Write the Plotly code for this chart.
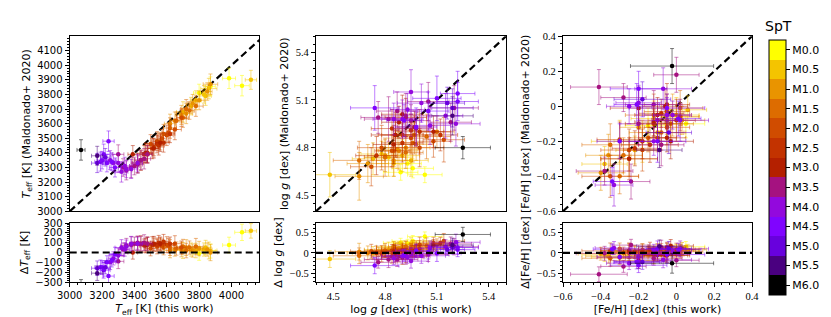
import math
import plotly.graph_objects as go

# ---------------- data ----------------
spt = [0.0, 0.0, 0.0, 0.0,
       0.5, 0.5, 0.5, 0.5, 0.5, 0.5, 0.5,
       1.0, 1.0, 1.0, 1.0, 1.0, 1.0, 1.0, 1.0,
       1.5, 1.5, 1.5, 1.5, 1.5, 1.5, 1.5, 1.5,
       2.0, 2.0, 2.0, 2.0, 2.0, 2.0, 2.0, 2.0,
       2.5, 2.5, 2.5, 2.5, 2.5, 2.5, 2.5,
       3.0, 3.0, 3.0, 3.0, 3.0, 3.0, 3.0,
       3.5, 3.5, 3.5, 3.5, 3.5, 3.5, 3.5, 3.5, 3.5,
       4.0, 4.0, 4.0, 4.0, 4.0, 4.0, 4.0, 4.0,
       4.5, 4.5, 4.5, 4.5, 4.5, 4.5, 4.5,
       5.0, 5.0,
       5.5,
       6.0]

teff_this = [3985, 4065, 3870, 3800,
             4120, 3860, 3830, 3780, 3750, 3700, 3840,
             3870, 3850, 3800, 3760, 3720, 3690, 3650, 3620,
             3780, 3740, 3700, 3660, 3620, 3580, 3560, 3720,
             3690, 3650, 3610, 3570, 3540, 3520, 3600, 3500,
             3620, 3580, 3540, 3510, 3480, 3460, 3550,
             3560, 3520, 3480, 3440, 3420, 3390, 3470,
             3480, 3440, 3400, 3380, 3350, 3330, 3300, 3420, 3460,
             3420, 3380, 3350, 3320, 3300, 3270, 3250, 3340,
             3240, 3230, 3210, 3190, 3260, 3280, 3200,
             3170, 3220,
             3170,
             3070]

teff_mald = [3910, 3860, 3855, 3810,
             3900, 3840, 3800, 3760, 3720, 3680, 3790,
             3870, 3820, 3760, 3740, 3670, 3660, 3620, 3600,
             3720, 3690, 3640, 3620, 3570, 3530, 3480, 3700,
             3640, 3560, 3540, 3500, 3480, 3440, 3520, 3460,
             3530, 3470, 3460, 3430, 3400, 3390, 3450,
             3470, 3430, 3390, 3350, 3330, 3390, 3400,
             3390, 3350, 3310, 3300, 3280, 3300, 3390, 3320, 3360,
             3330, 3290, 3290, 3270, 3330, 3330, 3350, 3310,
             3480, 3330, 3390, 3340, 3340, 3300, 3350,
             3330, 3370,
             3380,
             3420]

logg_this = [5.03, 4.96, 4.89, 4.93,
             4.48, 4.73, 4.85, 4.82, 4.90, 4.78, 4.95,
             4.65, 4.80, 4.88, 4.85, 4.92, 4.70, 4.98, 4.87,
             4.65, 4.92, 4.96, 4.85, 5.04, 4.80, 5.10, 4.97,
             5.14, 4.95, 5.00, 4.84, 4.90, 5.08, 4.78, 4.72,
             4.86, 4.90, 4.95, 5.00, 4.84, 5.12, 4.75,
             4.88, 4.92, 4.97, 4.86, 4.90, 5.08, 4.85,
             4.82, 4.87, 4.76, 4.92, 5.05, 4.95, 5.18, 4.98, 5.20,
             4.90, 4.95, 5.01, 4.85, 5.15, 5.06, 4.93, 5.21,
             4.74, 5.05, 5.22, 5.22, 4.98, 4.91, 5.10,
             5.19, 5.16,
             5.19,
             5.25]

logg_mald = [4.63, 4.67, 4.645, 4.70,
             4.63, 4.73, 4.70, 4.74, 4.75, 4.76, 4.72,
             4.62, 4.75, 4.78, 4.72, 4.80, 4.70, 4.82, 4.79,
             4.72, 4.77, 4.83, 4.78, 4.87, 4.74, 4.90, 4.88,
             4.85, 4.86, 4.80, 4.78, 4.88, 4.84, 4.80, 4.68,
             4.88, 4.83, 4.91, 4.90, 4.92, 4.88, 4.75,
             4.96, 4.99, 4.93, 4.88, 5.01, 4.90, 4.82,
             4.98, 5.03, 4.99, 5.00, 5.09, 4.97, 4.96, 4.92, 5.05,
             4.98, 5.15, 5.08, 4.98, 5.00, 4.94, 5.04, 4.95,
             5.05, 5.03, 5.09, 5.14, 4.93, 4.97, 5.11,
             5.05, 5.08,
             5.00,
             4.80]

feh_this = [0.05, -0.15, -0.05, 0.02,
            -0.12, -0.30, -0.22, 0.00, -0.18, -0.38, 0.06,
            -0.36, -0.10, -0.05, -0.40, -0.02, -0.25, 0.03, -0.20,
            -0.35, -0.08, -0.15, 0.02, -0.12, -0.28, -0.03, -0.30,
            -0.05, -0.25, -0.10, -0.05, -0.35, 0.02, -0.30, -0.18,
            -0.14, -0.08, 0.00, -0.22, -0.12, -0.18, -0.05,
            -0.10, -0.12, -0.20, -0.06, -0.05, -0.03, -0.25,
            -0.41, -0.28, -0.20, 0.00, -0.38, -0.10, -0.08, -0.24, -0.12,
            -0.25, -0.07, -0.12, -0.20, 0.02, -0.02, -0.05, -0.33,
            -0.20, -0.21, -0.05, 0.01, -0.10, -0.34, -0.30,
            -0.18, -0.04,
            -0.09,
            -0.023]

feh_mald = [-0.10, -0.11, -0.10, -0.06,
            -0.07, -0.20, -0.25, -0.05, -0.20, -0.33, -0.02,
            -0.28, -0.15, -0.08, -0.38, -0.05, -0.30, -0.08, -0.12,
            -0.22, -0.15, -0.18, -0.01, -0.05, -0.28, -0.10, -0.40,
            -0.12, -0.25, -0.18, -0.03, -0.40, -0.06, -0.19, -0.25,
            -0.22, -0.04, -0.08, -0.24, -0.10, -0.20, 0.01,
            -0.05, -0.09, -0.01, 0.00, -0.18, -0.20, -0.30,
            0.11, 0.05, -0.10, 0.18, -0.37, -0.08, -0.22, -0.43, 0.01,
            0.00, 0.10, -0.20, 0.02, -0.08, -0.05, -0.05, -0.45,
            0.10, 0.01, -0.01, -0.07, -0.20, -0.43, -0.20,
            0.04, -0.15,
            -0.25,
            0.23]

teff_err_this = [40, 45, 30, 35,
                 35, 50, 30, 35, 30, 40, 35,
                 45, 30, 35, 30, 40, 35, 30, 35,
                 45, 30, 35, 30, 40, 35, 30, 35,
                 30, 40, 35, 30, 35, 30, 40, 35,
                 30, 35, 30, 40, 35, 30, 35,
                 30, 35, 30, 40, 35, 30, 35,
                 30, 35, 30, 40, 35, 30, 35, 30, 40,
                 30, 35, 30, 40, 35, 30, 35, 30,
                 35, 30, 40, 35, 30, 35, 30,
                 35, 30,
                 35,
                 25]

teff_err_mald = [70, 70, 65, 60,
                 65, 70, 60, 65, 60, 70, 65,
                 70, 60, 65, 60, 70, 65, 60, 65,
                 70, 60, 65, 60, 70, 65, 60, 65,
                 60, 70, 65, 60, 65, 60, 70, 65,
                 60, 65, 60, 70, 65, 60, 65,
                 60, 65, 60, 70, 65, 60, 65,
                 60, 65, 60, 70, 65, 60, 65, 60, 70,
                 60, 65, 60, 70, 65, 60, 65, 60,
                 70, 60, 70, 65, 60, 65, 60,
                 65, 60,
                 65,
                 70]

logg_err_this = [0.10, 0.12, 0.10, 0.08,
                 0.15, 0.12, 0.10, 0.14, 0.10, 0.12, 0.10,
                 0.14, 0.10, 0.12, 0.10, 0.14, 0.12, 0.10, 0.12,
                 0.15, 0.10, 0.12, 0.10, 0.14, 0.12, 0.10, 0.12,
                 0.12, 0.10, 0.14, 0.10, 0.12, 0.10, 0.14, 0.12,
                 0.10, 0.12, 0.10, 0.14, 0.12, 0.10, 0.12,
                 0.10, 0.12, 0.10, 0.14, 0.12, 0.10, 0.12,
                 0.14, 0.12, 0.10, 0.14, 0.12, 0.10, 0.12, 0.10, 0.14,
                 0.12, 0.10, 0.14, 0.12, 0.10, 0.12, 0.10, 0.14,
                 0.14, 0.12, 0.12, 0.10, 0.12, 0.10, 0.14,
                 0.12, 0.10,
                 0.12,
                 0.16]

logg_err_mald = [0.05, 0.06, 0.05, 0.06,
                 0.14, 0.10, 0.08, 0.12, 0.10, 0.08, 0.10,
                 0.15, 0.10, 0.12, 0.10, 0.08, 0.12, 0.10, 0.12,
                 0.12, 0.10, 0.12, 0.10, 0.14, 0.12, 0.10, 0.12,
                 0.14, 0.10, 0.12, 0.10, 0.12, 0.10, 0.14, 0.12,
                 0.10, 0.12, 0.10, 0.14, 0.12, 0.10, 0.12,
                 0.10, 0.12, 0.10, 0.14, 0.12, 0.10, 0.12,
                 0.14, 0.12, 0.10, 0.14, 0.12, 0.10, 0.12, 0.10, 0.14,
                 0.12, 0.14, 0.12, 0.10, 0.14, 0.12, 0.10, 0.14,
                 0.14, 0.12, 0.12, 0.14, 0.12, 0.10, 0.14,
                 0.12, 0.10,
                 0.12,
                 0.07]

feh_err_this = [0.10, 0.12, 0.08, 0.10,
                0.12, 0.15, 0.10, 0.12, 0.15, 0.12, 0.10,
                0.12, 0.15, 0.10, 0.12, 0.10, 0.15, 0.12, 0.10,
                0.15, 0.12, 0.10, 0.12, 0.15, 0.10, 0.12, 0.10,
                0.12, 0.15, 0.10, 0.12, 0.15, 0.10, 0.12, 0.10,
                0.15, 0.12, 0.10, 0.12, 0.15, 0.10, 0.12,
                0.12, 0.10, 0.15, 0.12, 0.10, 0.12, 0.15,
                0.15, 0.12, 0.10, 0.12, 0.15, 0.10, 0.12, 0.10, 0.15,
                0.12, 0.15, 0.10, 0.12, 0.15, 0.10, 0.12, 0.10,
                0.15, 0.12, 0.20, 0.12, 0.15, 0.10, 0.12,
                0.15, 0.12,
                0.12,
                0.22]

feh_err_mald = [0.08, 0.10, 0.08, 0.10,
                0.10, 0.12, 0.08, 0.10, 0.12, 0.10, 0.08,
                0.12, 0.10, 0.08, 0.10, 0.12, 0.10, 0.08, 0.10,
                0.12, 0.10, 0.08, 0.10, 0.12, 0.10, 0.08, 0.10,
                0.10, 0.12, 0.08, 0.10, 0.12, 0.08, 0.10, 0.12,
                0.10, 0.08, 0.12, 0.10, 0.08, 0.10, 0.12,
                0.10, 0.08, 0.12, 0.10, 0.08, 0.10, 0.12,
                0.10, 0.08, 0.12, 0.10, 0.08, 0.10, 0.12, 0.10, 0.08,
                0.10, 0.12, 0.08, 0.10, 0.12, 0.08, 0.10, 0.12,
                0.10, 0.12, 0.08, 0.10, 0.12, 0.08, 0.10,
                0.10, 0.12,
                0.10,
                0.10]

spt_levels = [0.0, 0.5, 1.0, 1.5, 2.0, 2.5, 3.0, 3.5, 4.0, 4.5, 5.0, 5.5, 6.0]
spt_labels = ["M0.0", "M0.5", "M1.0", "M1.5", "M2.0", "M2.5", "M3.0",
              "M3.5", "M4.0", "M4.5", "M5.0", "M5.5", "M6.0"]

N = len(spt)
for arr in (teff_this, teff_mald, logg_this, logg_mald, feh_this, feh_mald,
            teff_err_this, teff_err_mald, logg_err_this, logg_err_mald,
            feh_err_this, feh_err_mald):
    assert len(arr) == N, len(arr)

# derived: differences (this work - Maldonado)
d_teff = [a - b for a, b in zip(teff_this, teff_mald)]
d_logg = [a - b for a, b in zip(logg_this, logg_mald)]
d_feh = [a - b for a, b in zip(feh_this, feh_mald)]
d_teff_err = [math.hypot(a, b) for a, b in zip(teff_err_this, teff_err_mald)]
d_logg_err = [math.hypot(a, b) for a, b in zip(logg_err_this, logg_err_mald)]
d_feh_err = [math.hypot(a, b) for a, b in zip(feh_err_this, feh_err_mald)]


# gnuplot colormap (matplotlib), M0 -> 1 (yellow), M6 -> 0 (black)
def spt_color(s, a=1.0):
    v = 1.0 - s / 6.0
    r = math.sqrt(v)
    g = v ** 3
    b = min(max(math.sin(2 * math.pi * v), 0.0), 1.0)
    return f"rgba({round(r*255)},{round(g*255)},{round(b*255)},{a})"


W, H = 831, 317


def xd(a, b):
    return [a / W, b / W]


def yd(top, bottom):
    return [1 - bottom / H, 1 - top / H]


panels = [
    # xaxis, yaxis, x, y, xerr, yerr
    ("x", "y", teff_this, teff_mald, teff_err_this, teff_err_mald),
    ("x2", "y2", logg_this, logg_mald, logg_err_this, logg_err_mald),
    ("x3", "y3", feh_this, feh_mald, feh_err_this, feh_err_mald),
    ("x4", "y4", teff_this, d_teff, teff_err_this, d_teff_err),
    ("x5", "y5", logg_this, d_logg, logg_err_this, d_logg_err),
    ("x6", "y6", feh_this, d_feh, feh_err_this, d_feh_err),
]

fig = go.Figure()

teff_rng = [3000, 4170]
teff_rng_y = [3000, 4198]
logg_rng = [4.4, 5.5]
feh_rng = [-0.6, 0.4]

# one-to-one and zero lines
dash_style = dict(color="black", width=2.2, dash="7px,4px")
for xa, ya, rng in (("x", "y", [3000, 4200]), ("x2", "y2", logg_rng), ("x3", "y3", feh_rng)):
    fig.add_trace(go.Scatter(x=rng, y=rng, mode="lines", line=dash_style,
                             xaxis=xa, yaxis=ya, showlegend=False, hoverinfo="skip"))

for xa, ya, xv, yv, xe, ye in panels:
    for s in spt_levels:
        idx = [i for i in range(N) if spt[i] == s]
        if not idx:
            continue
        fig.add_trace(go.Scatter(
            x=[xv[i] for i in idx], y=[yv[i] for i in idx],
            mode="markers", xaxis=xa, yaxis=ya, showlegend=False,
            marker=dict(color=spt_color(s), size=4.5, line=dict(width=0)),
            error_x=dict(type="data", array=[xe[i] for i in idx], color=spt_color(s, 0.5),
                         thickness=1, width=2),
            error_y=dict(type="data", array=[ye[i] for i in idx], color=spt_color(s, 0.5),
                         thickness=1, width=2),
        ))

for xa, ya, rng in (("x4", "y4", [3000, 4170]), ("x5", "y5", logg_rng), ("x6", "y6", feh_rng)):
    fig.add_trace(go.Scatter(x=rng, y=[0, 0], mode="lines", line=dash_style,
                             xaxis=xa, yaxis=ya, showlegend=False, hoverinfo="skip"))

# colorbar
n = len(spt_levels)
cscale = []
for i in range(n):
    s = spt_levels[n - 1 - i]
    c = spt_color(s)
    cscale.append([i / n, c])
    cscale.append([(i + 1) / n, c])
fig.add_trace(go.Scatter(
    x=[None], y=[None], mode="markers", xaxis="x", yaxis="y", showlegend=False,
    hoverinfo="skip",
    marker=dict(color=[0], colorscale=cscale, cmin=-6.25, cmax=0.25, showscale=True,
                colorbar=dict(
                    thickness=17, thicknessmode="pixels",
                    len=255, lenmode="pixels",
                    x=761 / W, xanchor="left", y=1 - 32 / H, yanchor="top",
                    xpad=0, ypad=0,
                    outlinewidth=1, outlinecolor="black",
                    tickvals=[-s for s in spt_levels], ticktext=spt_labels,
                    ticks="outside", ticklen=4, tickcolor="black",
                    tickfont=dict(family="DejaVu Sans", size=11, color="black"),
                )),
))
fig.add_annotation(text="SpT", x=770 / W, y=1 - 18 / H, xref="paper", yref="paper",
                   xanchor="center", yanchor="middle", showarrow=False,
                   font=dict(family="DejaVu Sans", size=14, color="black"))

SANS = "DejaVu Sans"
SERIF = "Liberation Serif"


def ax(domain, anchor, rng, dtick, minor, tick0=None, labels=True, font=SANS,
       title=None, tsize=11):
    d = dict(domain=domain, anchor=anchor, range=rng, showline=True, mirror=True,
             linecolor="black", linewidth=1.2, showgrid=False, zeroline=False,
             ticks="outside" if labels else "", ticklen=4, tickwidth=1, tickcolor="black",
             showticklabels=labels, automargin=False,
             tickfont=dict(family=font, size=10.5 if font == SERIF else 10, color="black"))
    if dtick is not None:
        d["dtick"] = dtick
        if tick0 is not None:
            d["tick0"] = tick0
    if labels and minor:
        d["minor"] = dict(dtick=minor, ticks="outside", ticklen=2, tickcolor="black",
                          showgrid=False, tick0=tick0 if tick0 is not None else 0)
    if title:
        d["title"] = dict(text=title, font=dict(family=SANS, size=tsize, color="black"),
                          standoff=4)
    return d


colL, colM, colR = xd(61.7, 251), xd(308, 498), xd(555, 744)
rowT, rowB = yd(28.3, 203.3), yd(215, 274)

teff_lbl = "<i>T</i><sub>eff</sub> [K]"
fig.update_layout(
    width=W, height=H, margin=dict(l=0, r=0, t=0, b=0),
    paper_bgcolor="white", plot_bgcolor="white",
    xaxis=ax(colL, "y", teff_rng, 200, None, labels=False),
    yaxis=ax(rowT, "x", teff_rng_y, 100, 20, tick0=3000,
             title=teff_lbl + " (Maldonado+ 2020)"),
    xaxis2=ax(colM, "y2", logg_rng, 0.3, None, tick0=4.5, labels=False),
    yaxis2=ax(rowT, "x2", logg_rng, 0.3, 0.05, tick0=4.5, font=SERIF,
              title="log <i>g</i> [dex] (Maldonado+ 2020)"),
    xaxis3=ax(colR, "y3", feh_rng, 0.2, None, labels=False),
    yaxis3=ax(rowT, "x3", feh_rng, 0.2, 0.04, tick0=0, font=SERIF,
              title="[Fe/H] [dex] (Maldonado+ 2020)"),
    xaxis4=ax(colL, "y4", teff_rng, 200, 50, tick0=3000,
              title=teff_lbl + " (this work)"),
    yaxis4=ax(rowB, "x4", [-300, 300], 100, 20, tick0=0, title="Δ" + teff_lbl),
    xaxis5=ax(colM, "y5", logg_rng, 0.3, 0.05, tick0=4.5, font=SERIF,
              title="log <i>g</i> [dex] (this work)"),
    yaxis5=ax(rowB, "x5", [-0.71, 0.73], 0.5, 0.1, tick0=0, font=SERIF,
              title="Δ log <i>g</i> [dex]"),
    xaxis6=ax(colR, "y6", feh_rng, 0.2, 0.04, tick0=0, font=SERIF,
              title="[Fe/H] [dex] (this work)"),
    yaxis6=ax(rowB, "x6", [-0.71, 0.73], 0.5, 0.1, tick0=0, font=SERIF,
              title="Δ[Fe/H] [dex]"),
)

fig.write_html("out.html")
